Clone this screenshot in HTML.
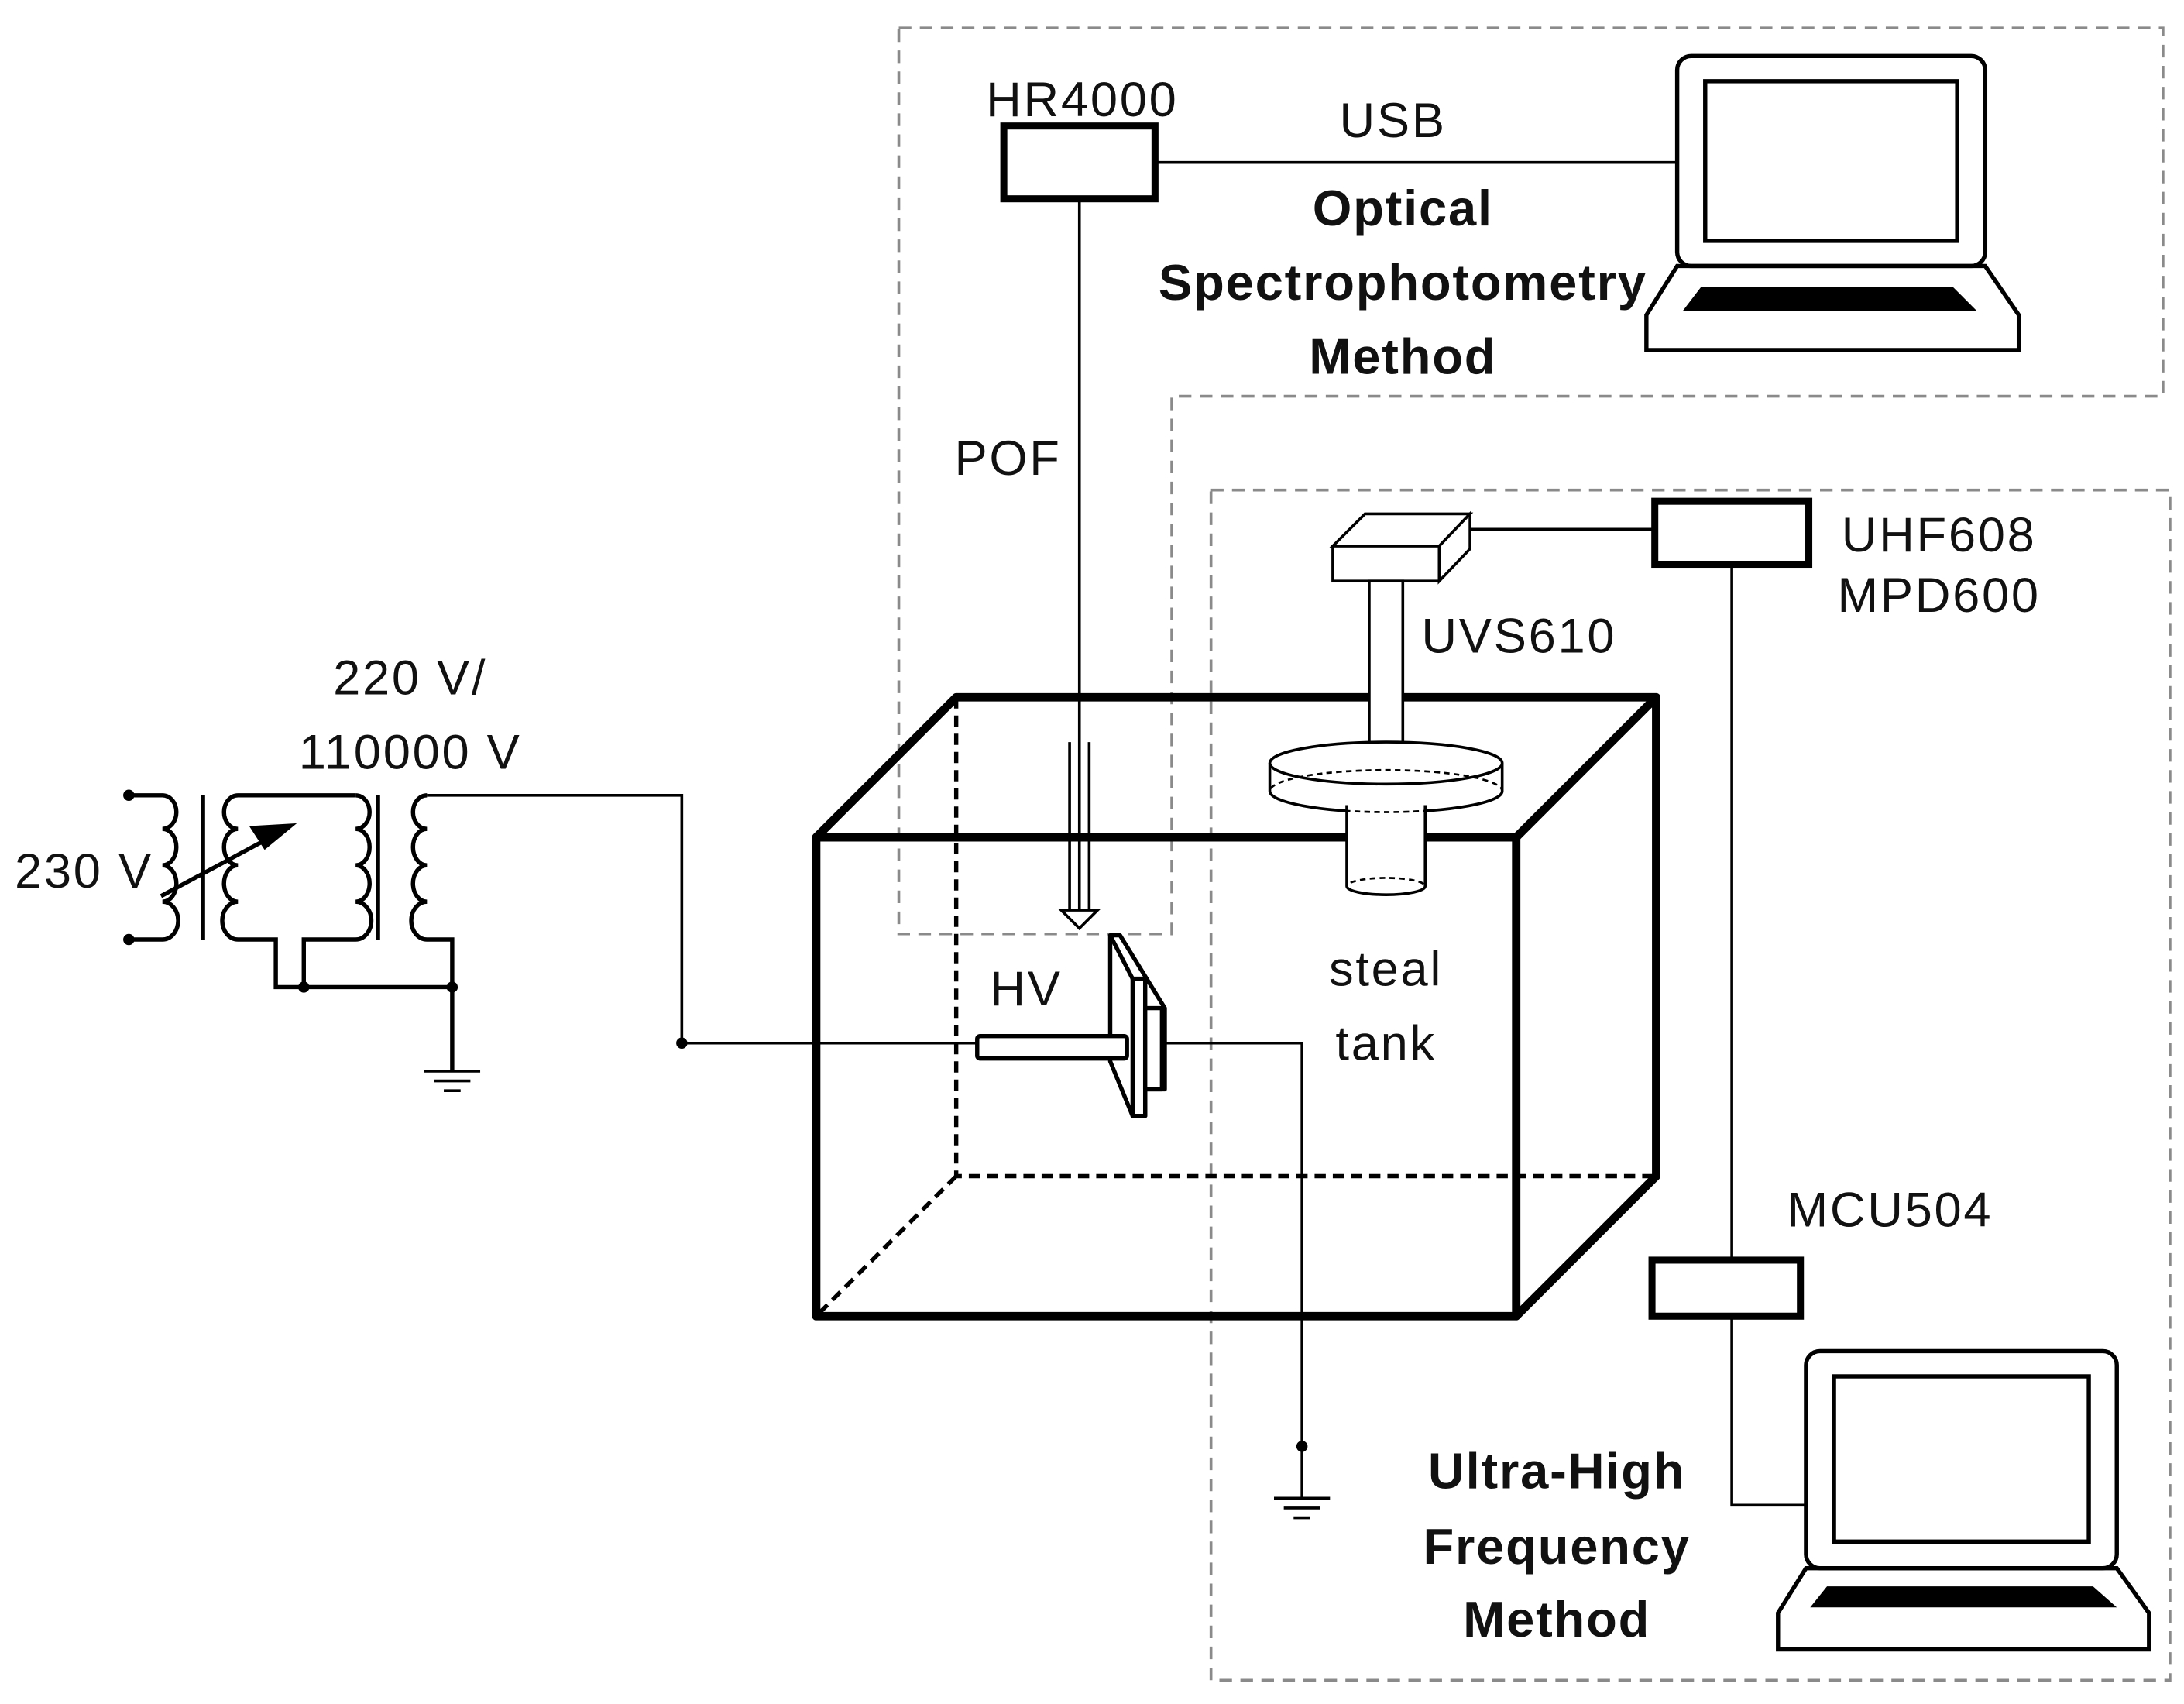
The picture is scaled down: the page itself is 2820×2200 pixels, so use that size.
<!DOCTYPE html>
<html><head><meta charset="utf-8"><style>html,body{margin:0;padding:0;background:#fff}svg{display:block}</style></head>
<body>
<svg width="2820" height="2200" viewBox="0 0 1560 1217" preserveAspectRatio="none" xmlns="http://www.w3.org/2000/svg" font-family="Liberation Sans, sans-serif">
<rect width="1560" height="1217" fill="#fff"/>
<g fill="none" stroke="#8a8a8a" stroke-width="2" stroke-dasharray="9,6">
<path d="M642,20 H1545 V283 H837 V667 H642 Z"/>
<rect x="865" y="350" width="685" height="850"/>
</g>
<g stroke="#000" fill="none">
<rect x="717" y="90" width="108" height="52" stroke-width="5"/>
<line x1="825" y1="116" x2="1198" y2="116" stroke-width="2"/>
<line x1="771" y1="142" x2="771" y2="650" stroke-width="2"/>
<line x1="764" y1="530" x2="764" y2="650" stroke-width="2"/>
<line x1="778" y1="530" x2="778" y2="650" stroke-width="2"/>
<path d="M758,650 L784,650 L771,663 Z" stroke-width="2"/>
<rect x="1198" y="40" width="220" height="150" rx="10" stroke-width="3"/>
<rect x="1218" y="58" width="180" height="114" stroke-width="3"/>
<path d="M1198,190 L1418,190 L1442,225 L1442,250 L1176,250 L1176,225 Z" stroke-width="3"/>
<rect x="1290" y="965" width="222" height="155" rx="10" stroke-width="3"/>
<rect x="1310" y="983" width="182" height="118" stroke-width="3"/>
<path d="M1290,1120 L1512,1120 L1535,1152 L1535,1178 L1270,1178 L1270,1152 Z" stroke-width="3"/>
<g stroke-width="6" stroke-linejoin="round">
<rect x="583" y="598" width="500" height="342"/>
<path d="M583,598 L683,498 L1183,498 L1083,598 M1183,498 L1183,840 L1083,940"/>
</g>
<path d="M683,498 L683,840 L1183,840 M683,840 L583,940" stroke-width="3" stroke-dasharray="8,5"/>
<g stroke-width="2" fill="#fff">
<path d="M952,390 L975,367 L1050,367 L1028,390 Z"/>
<path d="M1028,390 L1050,367 L1050,392 L1028,415 Z"/>
<rect x="952" y="390" width="76" height="25"/>
<rect x="978" y="415" width="24" height="117"/>
<path d="M907,545 L907,565 A83,15 0 0 0 1073,565 L1073,545"/>
<ellipse cx="990" cy="545" rx="83" ry="15"/>
<path d="M962,575 L962,633 A28,6 0 0 0 1018,633 L1018,575"/>
</g>
<ellipse cx="990" cy="633" rx="28" ry="6" stroke-width="1.5" stroke-dasharray="4,3"/>
<ellipse cx="990" cy="565" rx="83" ry="15" stroke-width="1.5" stroke-dasharray="4,3" />
<line x1="1050" y1="378" x2="1182" y2="378" stroke-width="2"/>
<rect x="1182" y="358" width="110" height="45" stroke-width="5"/>
<line x1="1237" y1="403" x2="1237" y2="900" stroke-width="2"/>
<rect x="1180" y="900" width="106" height="40" stroke-width="5"/>
<path d="M1237,940 V1075 H1290" stroke-width="2"/>
<!-- HV electrode -->
<g stroke-width="3" fill="#fff" stroke-linejoin="round">
<path d="M793,668 L800,668 L832,720 L832,778 L818,778 L818,797 L809,797 L793,758 Z"/>
<path d="M793,668 L809,699"/>
<rect x="809" y="699" width="9" height="98"/>
<rect x="818" y="720" width="12" height="58"/>
<rect x="698" y="740" width="107" height="16" rx="2"/>
</g>
<path d="M832,745 H930 V1035" stroke-width="2"/>
<line x1="487" y1="745" x2="698" y2="745" stroke-width="2"/>
<path d="M487,745 V568 H305" stroke-width="2"/>
<g stroke-width="2">
<line x1="910" y1="1070" x2="950" y2="1070"/><line x1="917" y1="1077" x2="943" y2="1077"/><line x1="924" y1="1084" x2="936" y2="1084"/>
<line x1="930" y1="1035" x2="930" y2="1070"/>
<line x1="303" y1="765" x2="343" y2="765"/><line x1="310" y1="772" x2="336" y2="772"/><line x1="317" y1="779" x2="329" y2="779"/>
</g>
<!-- transformer -->
<g stroke-width="3">
<path d="M92,568 H116 A10,12 0 0 1 116,592 A10,13 0 0 1 116,618 A10,13 0 0 1 116,644 A10,12 0 0 1 116,671 H92"/>
<line x1="145" y1="568" x2="145" y2="671"/>
<path d="M254,568 H170 A10,12 0 0 0 170,592 A10,13 0 0 0 170,618 A10,13 0 0 0 170,644 A10,12 0 0 0 170,671 H197 V705 H323"/>
<path d="M254,568 A10,12 0 0 1 254,592 A10,13 0 0 1 254,618 A10,13 0 0 1 254,644 A10,12 0 0 1 254,671 H217 V705"/>
<line x1="270" y1="568" x2="270" y2="671"/>
<path d="M305,568 A10,12 0 0 0 305,592 A10,13 0 0 0 305,618 A10,13 0 0 0 305,644 A10,12 0 0 0 305,671 H323 V765"/>
<line x1="115" y1="640" x2="195" y2="597"/>
</g>
<path d="M212,588 L189,607 L178,590 Z" fill="#000" stroke="none"/>
</g>
<g fill="#000">
<circle cx="92" cy="568" r="4"/><circle cx="92" cy="671" r="4"/>
<circle cx="217" cy="705" r="4"/><circle cx="323" cy="705" r="4"/>
<circle cx="487" cy="745" r="4"/><circle cx="930" cy="1033" r="4"/>
<path d="M1215,205 L1395,205 L1412,222 L1202,222 Z"/>
<path d="M1305,1133 L1495,1133 L1512,1148 L1293,1148 Z"/>
</g>
<g font-size="35" fill="#111" text-anchor="middle" letter-spacing="1.5">
<text x="773" y="83">HR4000</text>
<text x="995" y="98">USB</text>
<text x="720" y="339">POF</text>
<text x="1385" y="394">UHF608</text>
<text x="1385" y="437">MPD600</text>
<text x="1085" y="466">UVS610</text>
<text x="1350" y="876">MCU504</text>
<text x="990" y="704">steal</text>
<text x="990" y="757">tank</text>
<text x="733" y="718">HV</text>
<text x="293" y="496">220 V/</text>
<text x="293" y="549">110000 V</text>
<text x="60" y="634">230 V</text>
</g>
<g font-size="36" font-weight="bold" fill="#111" text-anchor="middle" letter-spacing="1">
<text x="1002" y="161">Optical</text>
<text x="1002" y="214">Spectrophotometry</text>
<text x="1002" y="267">Method</text>
<text x="1112" y="1063">Ultra-High</text>
<text x="1112" y="1117">Frequency</text>
<text x="1112" y="1169">Method</text>
</g>
</svg>
</body></html>
